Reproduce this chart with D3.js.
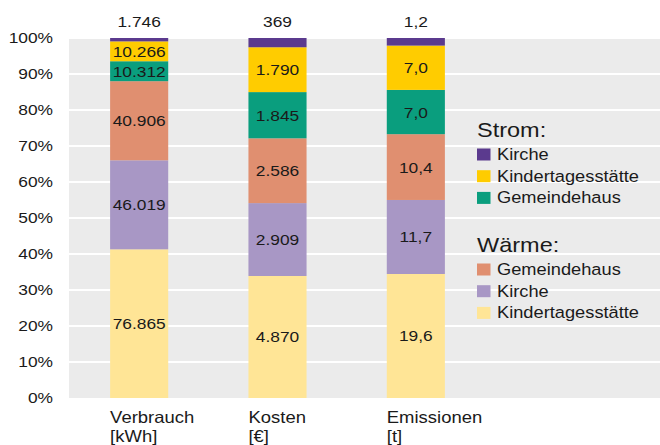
<!DOCTYPE html>
<html>
<head>
<meta charset="utf-8">
<script src="https://cdn.jsdelivr.net/npm/d3@7"></script>
<style>
  html, body { margin: 0; padding: 0; background: #fff; }
  svg { display: block; font-family: "Liberation Sans", Arial, Helvetica, sans-serif; }
</style>
</head>
<body>
<svg id="chart" width="660" height="445"></svg>
<script>
// categories (two-line axis labels)
const categories = ["Verbrauch", "Kosten", "Emissionen"];
const units = ["[kWh]", "[€]", "[t]"];

// series values per category, bottom to top of the stack
const waermeKita = [76865, 4870, 19.6];
const waermeKirche = [46019, 2909, 11.7];
const waermeGemeindehaus = [40906, 2586, 10.4];
const stromGemeindehaus = [10312, 1845, 7.0];
const stromKita = [10266, 1790, 7.0];
const stromKirche = [1746, 369, 1.2];

const yTicks = [0, 0.1, 0.2, 0.3, 0.4, 0.5, 0.6, 0.7, 0.8, 0.9, 1];

const series = [
    { key: "wKita", name: "Kindertagesstätte", group: "Wärme", values: waermeKita, color: "#ffe596" },
    { key: "wKirche", name: "Kirche", group: "Wärme", values: waermeKirche, color: "#a897c5" },
    { key: "wGem", name: "Gemeindehaus", group: "Wärme", values: waermeGemeindehaus, color: "#e08f70" },
    { key: "sGem", name: "Gemeindehaus", group: "Strom", values: stromGemeindehaus, color: "#0a9e7e" },
    { key: "sKita", name: "Kindertagesstätte", group: "Strom", values: stromKita, color: "#ffcc00" },
    { key: "sKirche", name: "Kirche", group: "Strom", values: stromKirche, color: "#5b3a8e" }
];

// german number format
const de = d3.formatLocale({ decimal: ",", thousands: ".", grouping: [3], currency: ["", " €"] });
const formats = [de.format(",d"), de.format(",d"), de.format(",.1f")];

const svg = d3.select("#chart");
const textColor = "#1a1a1a";
const sx = 1.12; // the original text looks a bit wide

// little helper: text placed with a horizontal stretch
function addText(parent, x, y, str, size, anchor) {
    return parent.append("text")
        .attr("transform", `translate(${x},${y}) scale(${sx},1)`)
        .attr("text-anchor", anchor || "start")
        .attr("font-size", size)
        .attr("fill", textColor)
        .text(str);
}

const plot = { left: 69, right: 660, top: 38, bottom: 398 };

const x = d3.scaleBand()
    .domain(categories)
    .range([70, 485])
    .paddingInner(0.58)
    .paddingOuter(0.29);

const y = d3.scaleLinear()
    .domain([0, 1])
    .range([plot.bottom, plot.top]);

// table for the stack
const table = categories.map((c, i) => {
    const row = { cat: c, i: i };
    series.forEach(s => row[s.key] = s.values[i]);
    return row;
});

const stacked = d3.stack()
    .keys(series.map(s => s.key))
    .offset(d3.stackOffsetExpand)(table);

// background + grid
svg.append("rect")
    .attr("x", plot.left)
    .attr("y", plot.top)
    .attr("width", plot.right - plot.left)
    .attr("height", plot.bottom - plot.top)
    .attr("fill", "#ebebeb");

svg.append("g")
    .selectAll("line")
    .data(yTicks.slice(1))
    .join("line")
    .attr("x1", plot.left)
    .attr("x2", plot.right)
    .attr("y1", d => y(d))
    .attr("y2", d => y(d))
    .attr("stroke", "#fff")
    .attr("stroke-width", 2);

// y axis
const yAxis = svg.append("g")
    .attr("transform", `translate(53,0)`)
    .call(d3.axisLeft(y).tickValues(yTicks).tickFormat(d3.format(".0%")).tickSize(0).tickPadding(0));
yAxis.select(".domain").remove();
yAxis.selectAll("text")
    .attr("font-family", "Liberation Sans, Arial, sans-serif")
    .attr("font-size", 15.5)
    .attr("fill", textColor)
    .attr("transform", `scale(${sx},1)`);

// bars
const layers = svg.append("g")
    .selectAll("g")
    .data(stacked)
    .join("g")
    .attr("fill", (d, i) => series[i].color);

layers.selectAll("rect")
    .data(d => d)
    .join("rect")
    .attr("x", d => x(d.data.cat))
    .attr("width", x.bandwidth())
    .attr("y", d => y(d[1]))
    .attr("height", d => y(d[0]) - y(d[1]));

// value labels (top segment goes above the bar)
const labels = svg.append("g");
stacked.forEach((layer, li) => {
    const isTop = li === stacked.length - 1;
    layer.forEach(d => {
        const cx = x(d.data.cat) + x.bandwidth() / 2;
        const cy = isTop ? 26.5 : (y(d[0]) + y(d[1])) / 2 + 5.5;
        addText(labels, cx, cy, formats[d.data.i](d.data[layer.key]), 15.5, "middle");
    });
});

// x labels (two lines, left aligned with bars)
const xl = svg.append("g");
categories.forEach((c, i) => {
    addText(xl, x(c), 422.5, c, 16.5);
    addText(xl, x(c), 441.5, units[i], 16.5);
});

// legend
const legend = svg.append("g");
const legendGroups = [
    { title: "Strom:", y: 137, keys: ["sKirche", "sKita", "sGem"] },
    { title: "Wärme:", y: 252, keys: ["wGem", "wKirche", "wKita"] }
];
legendGroups.forEach(g => {
    addText(legend, 477, g.y, g.title, 21);
    g.keys.forEach((k, j) => {
        const s = series.find(d => d.key === k);
        const by = g.y + 23 + j * 21.7;
        legend.append("rect")
            .attr("x", 477)
            .attr("y", by - 11.5)
            .attr("width", 13.5)
            .attr("height", 12)
            .attr("fill", s.color);
        addText(legend, 497, by, s.name, 16.3);
    });
});
</script>
</body>
</html>
